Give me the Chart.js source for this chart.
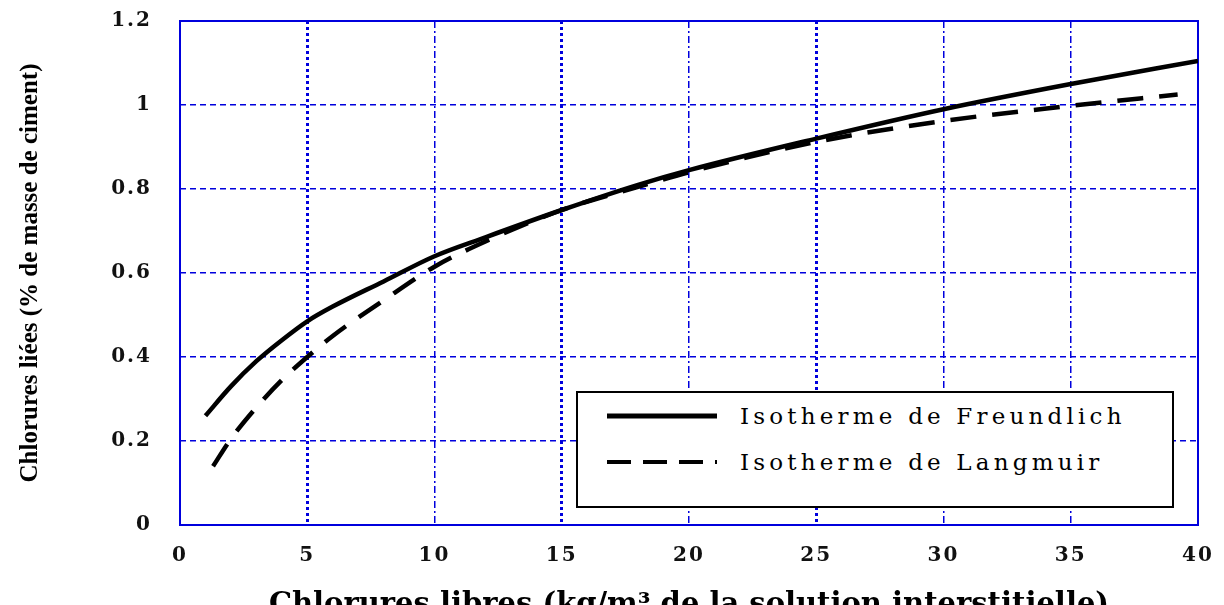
<!DOCTYPE html>
<html><head><meta charset="utf-8">
<script src="https://cdn.jsdelivr.net/npm/chart.js@4"></script>
<style>
html,body{margin:0;padding:0;background:#fff;}
#wrap{position:relative;width:1224px;height:605px;overflow:hidden;}
#c{position:absolute;left:0;top:0;}
#legend{position:absolute;left:576px;top:391px;width:594px;height:113px;border:2px solid #000;background:#fff;font-family:'DejaVu Serif';font-size:23px;letter-spacing:4.2px;color:#000;}
.item{position:absolute;left:29px;height:30px;display:flex;align-items:center;white-space:nowrap;}
.item svg{margin-right:23px;}
</style>
</head><body>
<div id="wrap">
<canvas id="c" width="1224" height="605"></canvas>
<div id="legend">
  <div class="item" style="top:8px"><svg width="110" height="10"><line x1="0" y1="5" x2="110" y2="5" stroke="#000" stroke-width="5"/></svg><span>Isotherme de Freundlich</span></div>
  <div class="item" style="top:54px"><svg width="110" height="10"><line x1="0" y1="5" x2="110" y2="5" stroke="#000" stroke-width="4" stroke-dasharray="24 12"/></svg><span>Isotherme de Langmuir</span></div>
</div>
</div>
<script>
// ---- data ----
const freundlichX = [1, 2, 3, 4, 5, 6, 8, 10, 12, 15, 18, 20, 25, 30, 35, 40];
const freundlichY = [0.26, 0.33, 0.39, 0.44, 0.485, 0.52, 0.58, 0.64, 0.685, 0.75, 0.81, 0.845, 0.92, 0.99, 1.05, 1.105];
const langmuirX = [1.3, 2, 3, 4, 5, 6, 8, 10, 12, 15, 18, 20, 25, 30, 35, 39.2];
const langmuirY = [0.14, 0.205, 0.28, 0.345, 0.40, 0.45, 0.535, 0.615, 0.675, 0.75, 0.805, 0.84, 0.912, 0.962, 0.998, 1.025];
const xTicks = [0, 5, 10, 15, 20, 25, 30, 35, 40];
const xTickLabels = ['0', '5', '10', '15', '20', '25', '30', '35', '40'];
const yTicks = [0, 0.2, 0.4, 0.6, 0.8, 1, 1.2];
const yTickLabels = ['0', '0.2', '0.4', '0.6', '0.8', '1', '1.2'];
const seriesNames = ['Isotherme de Freundlich', 'Isotherme de Langmuir'];
const xTitle = 'Chlorures libres (kg/m\u00b3 de la solution interstitielle)';
const yTitle = 'Chlorures li\u00e9es (% de masse de ciment)';

const BLUE = '#0000dd';

// letter-spaced tick labels
const origDrawLabels = Chart.Scale.prototype.drawLabels;
Chart.Scale.prototype.drawLabels = function(area) {
  const ctx = this.ctx;
  ctx.save();
  ctx.letterSpacing = '2px';
  origDrawLabels.call(this, area);
  ctx.restore();
};

const framePlugin = {
  id: 'frame',
  beforeDatasetsDraw(chart) {
    const a = chart.chartArea, ctx = chart.ctx;
    ctx.save();
    ctx.strokeStyle = BLUE;
    ctx.lineWidth = 2;
    ctx.strokeRect(a.left, a.top, a.right - a.left, a.bottom - a.top);
    ctx.restore();
  }
};

const toPts = (xs, ys) => xs.map((x, i) => ({x: x, y: ys[i]}));
const tickFont = {family: 'DejaVu Serif', size: 20, weight: 'bold'};

new Chart(document.getElementById('c'), {
  type: 'line',
  data: {
    datasets: [
      {label: seriesNames[0], data: toPts(freundlichX, freundlichY), borderColor: '#000', borderWidth: 4.5,
       pointRadius: 0, fill: false, cubicInterpolationMode: 'monotone'},
      {label: seriesNames[1], data: toPts(langmuirX, langmuirY), borderColor: '#000', borderWidth: 4.5,
       borderDash: [26, 16], borderCapStyle: 'butt', pointRadius: 0, fill: false, cubicInterpolationMode: 'monotone'}
    ]
  },
  options: {
    responsive: false,
    animation: false,
    events: [],
    layout: {padding: {left: 0, right: 26, top: 21, bottom: 0}},
    plugins: {legend: {display: false}, tooltip: {enabled: false}},
    scales: {
      x: {
        type: 'linear', min: 0, max: 40,
        afterBuildTicks: s => { s.ticks = xTicks.map(v => ({value: v})); },
        afterFit: s => { s.height = 80; },
        ticks: {font: tickFont, color: '#111', padding: 0, maxRotation: 0,
          callback: (v) => xTickLabels[xTicks.indexOf(v)] ?? ''},
        grid: {
          drawTicks: true, tickLength: 19, tickColor: 'rgba(0,0,0,0)',
          color: c => (c.tick && (c.tick.value === 0 || c.tick.value === 40)) ? 'rgba(0,0,0,0)' : BLUE,
          lineWidth: c => (c.tick && [5, 15, 25].includes(c.tick.value)) ? 3 : 1.5
        },
        border: {display: false,
          dash: c => (c.tick && [5, 15, 25].includes(c.tick.value)) ? [3, 3] : [7, 3, 2, 3]},
        title: {display: true, text: xTitle, color: '#000',
          font: {family: 'DejaVu Serif', size: 29, weight: 'bold'}, padding: {top: 0, bottom: -18}}
      },
      y: {
        type: 'linear', min: 0, max: 1.2,
        afterBuildTicks: s => { s.ticks = yTicks.map(v => ({value: v})); },
        afterFit: s => { s.width = 180; },
        ticks: {font: tickFont, color: '#111', padding: 0,
          callback: (v) => { const i = yTicks.findIndex(t => Math.abs(t - v) < 1e-9); return i >= 0 ? yTickLabels[i] : ''; }},
        grid: {
          drawTicks: true, tickLength: 28, tickColor: 'rgba(0,0,0,0)',
          color: c => (c.tick && (c.tick.value === 0 || Math.abs(c.tick.value - 1.2) < 1e-9)) ? 'rgba(0,0,0,0)' : BLUE,
          lineWidth: 1.5
        },
        border: {display: false, dash: [6, 4]},
        title: {display: true, text: yTitle, color: '#000',
          font: {family: 'Liberation Serif', size: 25, weight: 'bold'}, padding: {top: 16, bottom: 0}}
      }
    }
  },
  plugins: [framePlugin]
});
</script>
</body></html>
